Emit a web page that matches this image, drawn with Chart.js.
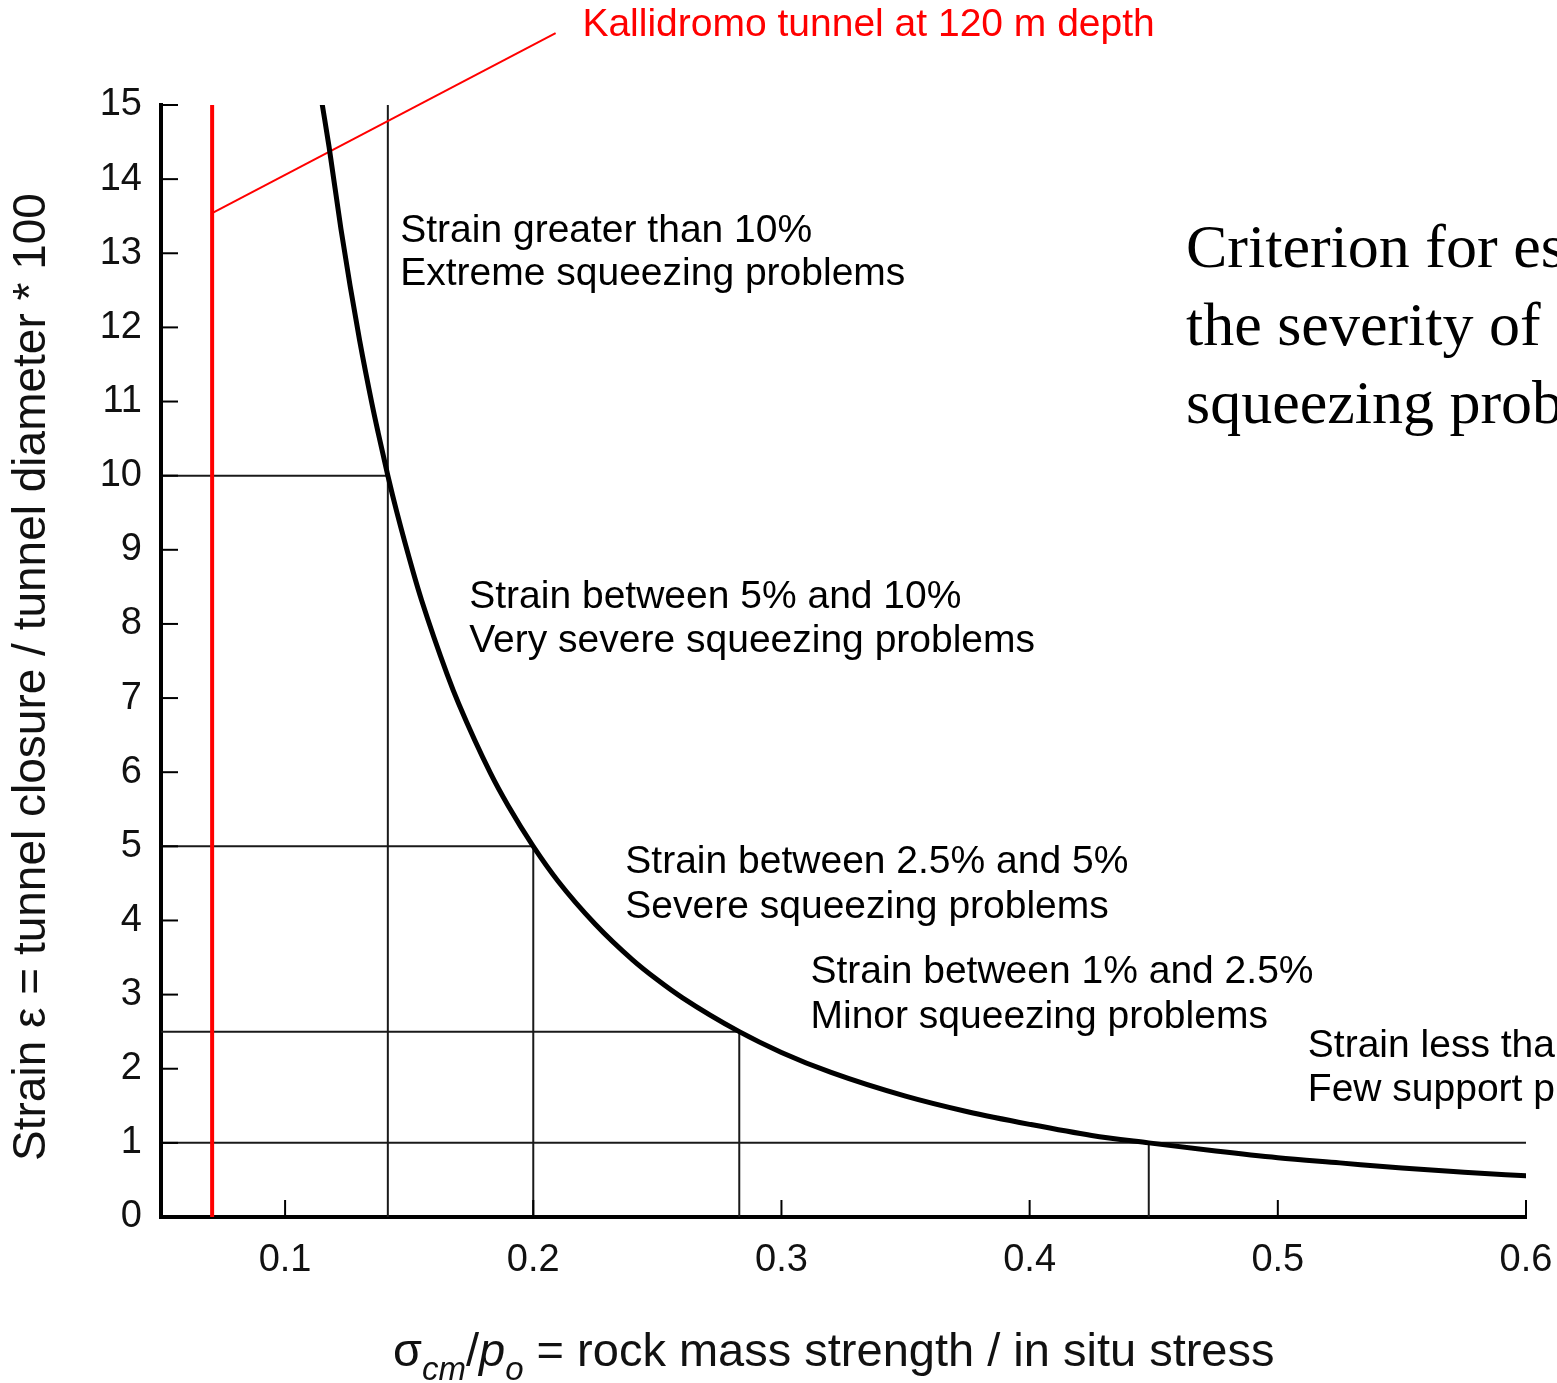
<!DOCTYPE html>
<html lang="en">
<head>
    <meta charset="UTF-8">
    <title>Squeezing criterion</title>
    <style>
        html, body { margin: 0; padding: 0; background: #fff; }
        .chart-box { width: 1557px; height: 1383px; position: relative; }
    </style>
</head>
<body>
    <div class="chart-box"><canvas id="squeezeChart"></canvas></div>

    <script src="https://cdn.jsdelivr.net/npm/chart.js"></script>
    <script>
        // Strain curve, points
        const ratioValues  = [0.115, 0.1177, 0.1225, 0.1262, 0.13, 0.135, 0.1375, 0.1414, 0.145, 0.1516, 0.155, 0.1653, 0.17, 0.1827, 0.19, 0.2, 0.21, 0.225, 0.24, 0.25, 0.26, 0.283, 0.3, 0.32, 0.35, 0.375, 0.4, 0.425, 0.448, 0.475, 0.5, 0.525, 0.55, 0.575, 0.6];
        const strainValues = [15, 14.44, 13.33, 12.56, 11.83, 10.97, 10.58, 10, 9.51, 8.7, 8.32, 7.32, 6.92, 5.99, 5.54, 5.0, 4.53, 3.95, 3.47, 3.2, 2.96, 2.5, 2.22, 1.95, 1.63, 1.42, 1.25, 1.1, 1.0, 0.89, 0.8, 0.73, 0.66, 0.605, 0.555];

        // class limits (strain %, ratio where the curve crosses it)
        const limitStrain  = [10, 5, 2.5, 1];
        const limitRatio   = [0.1414, 0.2, 0.283, 0.448];
        const limitLineEnd = [0.1414, 0.2, 0.283, 0.6];
        const limitLineTop = [15, 5, 2.5, 1];

        // Kallidromo tunnel
        const tunnelRatio   = 0.0706;
        const pointerRatio  = [0.0706, 0.209];
        const pointerStrain = [13.54, 15.97];

        const xTicks = [0.1, 0.2, 0.3, 0.4, 0.5, 0.6];
        const yTicks = [0, 1, 2, 3, 4, 5, 6, 7, 8, 9, 10, 11, 12, 13, 14, 15];

        const classLabels = [
            ['Strain greater than 10%', 'Extreme squeezing problems'],
            ['Strain between 5% and 10%', 'Very severe squeezing problems'],
            ['Strain between 2.5% and 5%', 'Severe squeezing problems'],
            ['Strain between 1% and 2.5%', 'Minor squeezing problems'],
            ['Strain less than 1%', 'Few support problems']
        ];
        const sideNote = ['Criterion for estimating', 'the severity of', 'squeezing problems'];

        const X_MIN = 0.05, X_MAX = 0.6;
        const SANS = "'Liberation Sans', Arial, sans-serif";

        // where the labels sit (data units: left edge, first line centre, second line centre)
        const labelAnchors = [
            [0.1464, 13.30, 12.72],
            [0.1742, 8.36, 7.77],
            [0.2371, 4.79, 4.18],
            [0.3117, 3.30, 2.70],
            [0.5121, 2.31, 1.71]
        ];

        const datasets = [];
        datasets.push({
            data: ratioValues.map((x, i) => ({ x: x, y: strainValues[i] })),
            borderColor: '#000', borderWidth: 5, pointRadius: 0,
            cubicInterpolationMode: 'monotone', borderCapStyle: 'round'
        });
        datasets.push({
            data: [{ x: tunnelRatio, y: 0 }, { x: tunnelRatio, y: 15 }],
            borderColor: '#ff0000', borderWidth: 4, pointRadius: 0
        });
        datasets.push({
            data: pointerRatio.map((x, i) => ({ x: x, y: pointerStrain[i] })),
            borderColor: '#ff0000', borderWidth: 2, pointRadius: 0, clip: false
        });
        limitStrain.forEach((s, i) => {
            datasets.push({
                data: [{ x: X_MIN, y: s }, { x: limitLineEnd[i], y: s }],
                borderColor: '#1a1a1a', borderWidth: 2, pointRadius: 0
            });
            datasets.push({
                data: [{ x: limitRatio[i], y: 0 }, { x: limitRatio[i], y: limitLineTop[i] }],
                borderColor: '#1a1a1a', borderWidth: 2, pointRadius: 0
            });
        });

        // inward tick marks, labels and axis titles
        const decorations = {
            id: 'decorations',
            afterDatasetsDraw(chart) {
                const ctx = chart.ctx;
                const xs = chart.scales.x, ys = chart.scales.y;
                const area = chart.chartArea;
                ctx.save();

                ctx.strokeStyle = '#000';
                ctx.lineWidth = 2;
                yTicks.forEach(v => {
                    const py = ys.getPixelForValue(v);
                    ctx.beginPath(); ctx.moveTo(area.left, py); ctx.lineTo(area.left + 17, py); ctx.stroke();
                });
                xTicks.forEach(v => {
                    const px = xs.getPixelForValue(v);
                    ctx.beginPath(); ctx.moveTo(px, area.bottom); ctx.lineTo(px, area.bottom - 17); ctx.stroke();
                });

                ctx.fillStyle = '#000';
                ctx.font = '39px ' + SANS;
                ctx.textAlign = 'left';
                ctx.textBaseline = 'middle';
                classLabels.forEach((lines, i) => {
                    const a = labelAnchors[i];
                    ctx.fillText(lines[0], xs.getPixelForValue(a[0]), ys.getPixelForValue(a[1]));
                    ctx.fillText(lines[1], xs.getPixelForValue(a[0]), ys.getPixelForValue(a[2]));
                });

                ctx.fillStyle = '#ff0000';
                ctx.fillText('Kallidromo tunnel at 120 m depth', xs.getPixelForValue(0.2198), ys.getPixelForValue(16.08));

                ctx.fillStyle = '#000';
                ctx.font = '62px "Liberation Serif", "Times New Roman", serif';
                ctx.textBaseline = 'alphabetic';
                sideNote.forEach((t, i) => ctx.fillText(t, 1186, 267 + i * 78));

                // y title
                ctx.save();
                ctx.translate(45, 677);
                ctx.rotate(-Math.PI / 2);
                ctx.font = '46px ' + SANS;
                ctx.textAlign = 'center';
                ctx.fillStyle = '#111';
                ctx.fillText('Strain \u03b5 = tunnel closure / tunnel diameter * 100', 0, 0);
                ctx.restore();

                // x title with subscripts
                let x = 393;
                const base = 1366;
                const parts = [
                    ['\u03c3', '47px ' + SANS, 0],
                    ['cm', 'italic 33px ' + SANS, 14],
                    ['/', '47px ' + SANS, 0],
                    ['p', 'italic 47px ' + SANS, 0],
                    ['o', 'italic 33px ' + SANS, 14],
                    [' = rock mass strength / in situ stress', '47px ' + SANS, 0]
                ];
                ctx.fillStyle = '#111';
                ctx.textAlign = 'left';
                parts.forEach(p => {
                    ctx.font = p[1];
                    ctx.fillText(p[0], x, base + p[2]);
                    x += ctx.measureText(p[0]).width;
                });

                ctx.restore();
            }
        };

        const ctx = document.getElementById('squeezeChart').getContext('2d');
        const squeezeChart = new Chart(ctx, {
            type: 'line',
            data: { datasets: datasets },
            options: {
                responsive: true,
                maintainAspectRatio: false,
                animation: false,
                layout: { padding: { left: 0, right: 31, top: 105, bottom: 0 } },
                plugins: { legend: { display: false }, tooltip: { enabled: false } },
                elements: { line: { tension: 0 } },
                scales: {
                    x: {
                        type: 'linear', min: X_MIN, max: X_MAX,
                        afterBuildTicks: s => { s.ticks = xTicks.map(v => ({ value: v })); },
                        afterFit: s => { s.height = 166; s.paddingLeft = 0; s.paddingRight = 0; },
                        grid: { display: false, drawTicks: false },
                        border: { display: true, width: 4, color: '#000' },
                        ticks: { font: { family: SANS, size: 38 }, color: '#111', padding: 21, maxRotation: 0 }
                    },
                    y: {
                        type: 'linear', min: 0, max: 15,
                        afterBuildTicks: s => { s.ticks = yTicks.map(v => ({ value: v })); },
                        afterFit: s => { s.width = 161; s.paddingTop = 0; s.paddingBottom = 0; },
                        grid: { display: false, drawTicks: false },
                        border: { display: true, width: 4, color: '#000' },
                        ticks: { font: { family: SANS, size: 38 }, color: '#111', padding: 19 }
                    }
                }
            },
            plugins: [decorations]
        });
    </script>
</body>
</html>
